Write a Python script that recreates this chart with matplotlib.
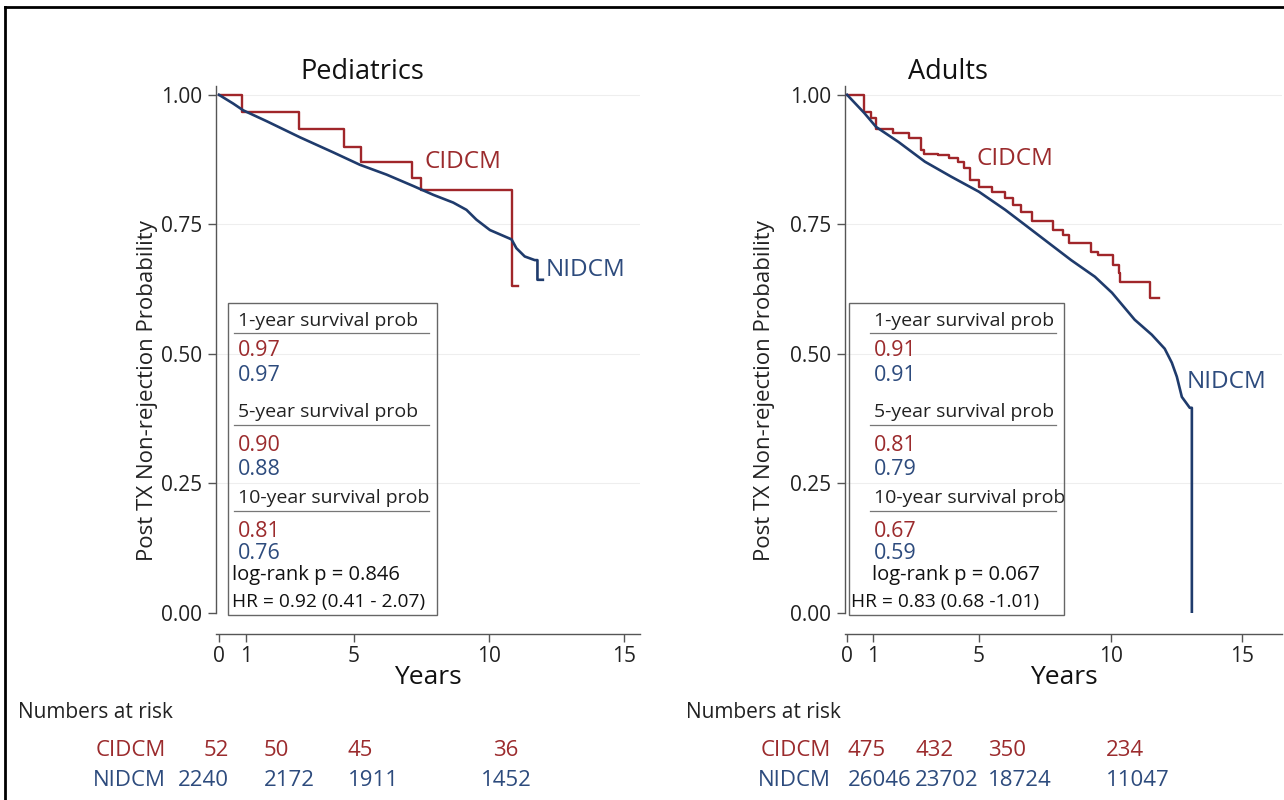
import matplotlib.pyplot as plt
from matplotlib.patches import Rectangle
from matplotlib.lines import Line2D

plt.rcParams['font.family'] = ['Open Sans', 'DejaVu Sans']

RED = '#a0262a'
BLUE = '#1f3b6c'
RED_TXT = '#9b2b2d'
BLUE_TXT = '#2d4b7d'

W, H = 1284, 800

# ---- data ----
# pediatrics
ped_cidcm_t = [0, 0.85, 2.95, 4.65, 5.25, 7.15, 7.5, 10.85, 11.07]
ped_cidcm_s = [1.0, 0.967, 0.934, 0.900, 0.871, 0.840, 0.817, 0.631, 0.631]
ped_nidcm_t = [0, 0.53, 0.9, 1.77, 3.0, 4.23, 5.22, 6.21, 7.2, 7.94, 8.68, 9.17,
               9.54, 10.04, 10.84, 11.02, 11.33, 11.7, 11.8, 11.8, 12.0]
ped_nidcm_s = [1.0, 0.983, 0.970, 0.949, 0.918, 0.889, 0.865, 0.846, 0.824, 0.807, 0.792, 0.778,
               0.759, 0.739, 0.721, 0.704, 0.688, 0.681, 0.681, 0.643, 0.643]

# adults
adu_cidcm_t = [0, 0.65, 0.9, 1.1, 1.75, 2.35, 2.8, 2.9, 3.45, 3.85, 4.2, 4.45, 4.65, 5.0,
               5.5, 6.0, 6.3, 6.6, 7.0, 7.8, 8.2, 8.4, 9.25, 9.5, 10.1, 10.3, 10.35, 11.5, 11.85]
adu_cidcm_s = [1.0, 0.967, 0.955, 0.934, 0.927, 0.917, 0.894, 0.886, 0.884, 0.878, 0.871, 0.859,
               0.836, 0.822, 0.813, 0.801, 0.788, 0.774, 0.757, 0.739, 0.730, 0.714, 0.697, 0.691,
               0.672, 0.656, 0.639, 0.608, 0.608]
adu_nidcm_t = [0, 0.65, 1.1, 1.95, 2.95, 3.95, 5.0, 6.0, 6.75, 7.65, 8.5, 9.4, 10.05, 10.91,
               11.56, 12.05, 12.32, 12.51, 12.7, 13.0, 13.08, 13.08]
adu_nidcm_s = [1.0, 0.965, 0.938, 0.909, 0.871, 0.842, 0.813, 0.778, 0.749, 0.714, 0.681, 0.649,
               0.618, 0.566, 0.537, 0.510, 0.483, 0.456, 0.417, 0.396, 0.396, 0.0]

surv_headers = ['1-year survival prob', '5-year survival prob', '10-year survival prob']
ped_cidcm_prob = ['0.97', '0.90', '0.81']
ped_nidcm_prob = ['0.97', '0.88', '0.76']
adu_cidcm_prob = ['0.91', '0.81', '0.67']
adu_nidcm_prob = ['0.91', '0.79', '0.59']
ped_logrank = 'log-rank p = 0.846'
adu_logrank = 'log-rank p = 0.067'
ped_hr = 'HR = 0.92 (0.41 - 2.07)'
adu_hr = 'HR = 0.83 (0.68 -1.01)'

ped_risk_cidcm = ['52', '50', '45', '36']
ped_risk_nidcm = ['2240', '2172', '1911', '1452']
adu_risk_cidcm = ['475', '432', '350', '234']
adu_risk_nidcm = ['26046', '23702', '18724', '11047']

xticks = [0, 1, 5, 10, 15]
yticks = [0, 0.25, 0.5, 0.75, 1.0]


def px(x, y):
    return x / W, 1 - y / H


def draw_panel(fig, ax_px, xlim, title, title_x, ylab_x, ct, cs, nt, ns, cprob, nprob,
               logrank, hr, box, lbl_c, lbl_n):
    x0, x1, ytop = ax_px
    left, top = px(x0, ytop)
    right, bottom = px(x1, 613)
    ax = fig.add_axes([left, bottom, right - left, top - bottom])
    ax.set_xlim(*xlim)
    ax.set_ylim(0, 1.017)

    for sp in ['top', 'right']:
        ax.spines[sp].set_visible(False)
    ax.spines['bottom'].set_position(('outward', 15))
    for sp in ['left', 'bottom']:
        ax.spines[sp].set_color('#555555')
        ax.spines[sp].set_linewidth(1.0)

    ax.set_xticks(xticks)
    ax.set_yticks(yticks)
    ax.set_yticklabels(['%.2f' % v for v in yticks])
    ax.tick_params(axis='both', labelsize=15, length=6, width=1, color='#555555',
                   labelcolor='#222222')
    ax.tick_params(axis='x', pad=3)
    ax.tick_params(axis='y', pad=4)
    for v in yticks[1:]:
        ax.axhline(v, color='#eeeeee', lw=0.8, zorder=0)

    ax.step(ct, cs, where='post', color=RED, lw=1.7, zorder=3)
    ax.plot(nt, ns, color=BLUE, lw=1.9, zorder=4)

    ax.set_title(title, fontsize=19.5, pad=-1, x=title_x, color='#111111')
    ax.set_xlabel('Years', fontsize=19, labelpad=-2, color='#111111')
    ax.set_ylabel('Post TX Non-rejection Probability', fontsize=16, color='#222222')
    ax.yaxis.set_label_coords(ylab_x, 0.423)

    ax.text(lbl_c[0], lbl_c[1], 'CIDCM', color=RED_TXT, fontsize=17.5, va='center')
    ax.text(lbl_n[0], lbl_n[1], 'NIDCM', color=BLUE_TXT, fontsize=17.5, va='center')

    # stats box
    bx0, bx1, tx, tx2, hx = box
    ax.add_patch(Rectangle((bx0, -0.004), bx1 - bx0, 0.602, fill=False,
                           edgecolor='#666666', lw=1.0, clip_on=False, zorder=5))
    head_y = [0.564, 0.388, 0.222]
    line_y = [0.541, 0.363, 0.197]
    red_y = [0.506, 0.324, 0.158]
    blue_y = [0.458, 0.276, 0.114]
    for i in range(3):
        ax.text(tx, head_y[i], surv_headers[i], fontsize=14, va='center', color='#222222')
        ax.plot([tx - 0.15, bx1 - 0.3], [line_y[i]] * 2, color='#777777', lw=0.9,
                clip_on=False)
        ax.text(tx, red_y[i], cprob[i], fontsize=15.5, va='center', color=RED_TXT)
        ax.text(tx, blue_y[i], nprob[i], fontsize=15.5, va='center', color=BLUE_TXT)
    ax.text(tx2, 0.073, logrank, fontsize=14.5, va='center', color='#111111')
    ax.text(hx, 0.021, hr, fontsize=13.8, va='center', color='#111111')
    return ax


fig = plt.figure(figsize=(W / 100, H / 100), dpi=100)
fig.patch.set_facecolor('white')

draw_panel(fig, (216, 640, 86), (-0.11, 15.6), 'Pediatrics', 0.344, -0.137,
           ped_cidcm_t, ped_cidcm_s, ped_nidcm_t, ped_nidcm_s,
           ped_cidcm_prob, ped_nidcm_prob, ped_logrank, ped_hr,
           (0.33, 8.07, 0.70, 0.48, 0.48), (7.6, 0.871), (12.1, 0.662))

draw_panel(fig, (845, 1282, 86), (-0.08, 16.5), 'Adults', 0.236, -0.16,
           adu_cidcm_t, adu_cidcm_s, adu_nidcm_t, adu_nidcm_s,
           adu_cidcm_prob, adu_nidcm_prob, adu_logrank, adu_hr,
           (0.08, 8.21, 1.03, 0.95, 0.15), (4.9, 0.876), (12.9, 0.446))

# numbers at risk
def risk_table(xlabel, xrow, cols, has, cvals, nvals):
    fig.text(*px(xlabel, 713), 'Numbers at risk', fontsize=15, va='center', color='#222222')
    fig.text(*px(xrow, 751), 'CIDCM', fontsize=16, va='center', ha='right', color=RED_TXT)
    fig.text(*px(xrow, 780), 'NIDCM', fontsize=16, va='center', ha='right', color=BLUE_TXT)
    for x, ha, c, n in zip(cols, has, cvals, nvals):
        fig.text(*px(x, 751), c, fontsize=16, va='center', ha=ha, color=RED_TXT)
        fig.text(*px(x, 780), n, fontsize=16, va='center', ha=ha, color=BLUE_TXT)


risk_table(18, 166, [229, 264, 348, 506], ['right', 'left', 'left', 'center'],
           ped_risk_cidcm, ped_risk_nidcm)
risk_table(686, 831, [848, 915, 988, 1106], ['left'] * 4,
           adu_risk_cidcm, adu_risk_nidcm)

# frame edges of the screenshot
fig.add_artist(Line2D([5 / W, 1], [1 - 7 / H] * 2, color='black', lw=2))
fig.add_artist(Line2D([5 / W] * 2, [0, 1 - 7 / H], color='black', lw=2))

fig.savefig('out.png', dpi=100, facecolor='white')
